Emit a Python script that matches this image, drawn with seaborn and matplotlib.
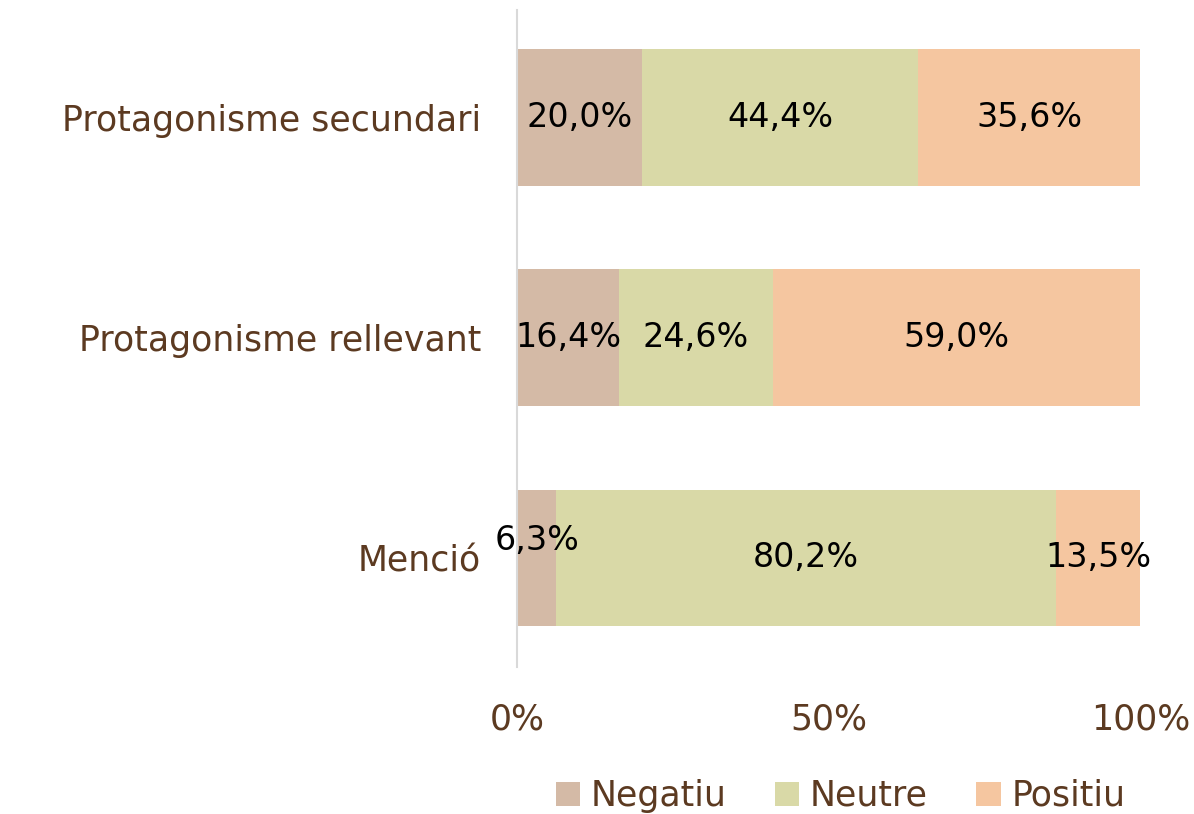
import matplotlib
matplotlib.use("Agg")
import matplotlib.pyplot as plt
import seaborn as sns
import pandas as pd
import numpy as np
from matplotlib.patches import Patch

categories = ["Protagonisme secundari", "Protagonisme rellevant", "Menció"]
series = ["Negatiu", "Neutre", "Positiu"]
negatiu = [20.0, 16.4, 6.3]
neutre = [44.4, 24.6, 80.2]
positiu = [35.6, 59.0, 13.5]
xticks = [0, 50, 100]
xtick_labels = ["0%", "50%", "100%"]

colors = {"Negatiu": "#D4BAA6", "Neutre": "#D9D9A7", "Positiu": "#F5C6A0"}
brown = "#5C3A21"

sns.set_theme(style="white")
plt.rcParams["font.family"] = ["DejaVu Sans"]

df = pd.DataFrame({"cat": categories, "Negatiu": negatiu,
                   "Neutre": neutre, "Positiu": positiu})
# cumulative ends for stacking
df["end_neg"] = df["Negatiu"]
df["end_neu"] = df["Negatiu"] + df["Neutre"]
df["end_pos"] = df["end_neu"] + df["Positiu"]

fig = plt.figure(figsize=(11.94, 8.14), dpi=100)
ax = fig.add_axes([0.433, 0.181, 0.522, 0.807])

# draw longest first, shorter ones on top
for col, name in [("end_pos", "Positiu"), ("end_neu", "Neutre"), ("end_neg", "Negatiu")]:
    sns.barplot(data=df, x=col, y="cat", color=colors[name], width=0.62,
                saturation=1, ax=ax, order=categories, linewidth=0)

# segment labels
for i, row in df.iterrows():
    starts = [0, row["end_neg"], row["end_neu"]]
    vals = [row["Negatiu"], row["Neutre"], row["Positiu"]]
    for s, v in zip(starts, vals):
        yoff = -0.08 if v < 10 and s == 0 else 0
        ax.text(s + v / 2, i + yoff, f"{v:.1f}%".replace(".", ","),
                ha="center", va="center", fontsize=24, color="black")

ax.set_xlim(0, 100)
ax.set_ylim(2.495, -0.49)
ax.set_xticks(xticks)
ax.set_xticklabels(xtick_labels)
ax.set_xlabel("")
ax.set_ylabel("")
ax.tick_params(axis="x", length=0, pad=26, labelsize=25, labelcolor=brown)
ax.tick_params(axis="y", length=0, pad=26, labelsize=25, labelcolor=brown)
for side in ["top", "right", "bottom"]:
    ax.spines[side].set_visible(False)
ax.spines["left"].set_color("#D9D9D9")
ax.spines["left"].set_linewidth(1.5)

handles = [Patch(facecolor=colors[s], edgecolor="none") for s in series]
fig.legend(handles, series, loc="lower center", bbox_to_anchor=(0.704, -0.037),
           ncol=3, frameon=False, fontsize=25, labelcolor=brown,
           handlelength=0.7, handleheight=0.7, handletextpad=0.3, columnspacing=1.4)

fig.savefig("out.png", dpi=100)
